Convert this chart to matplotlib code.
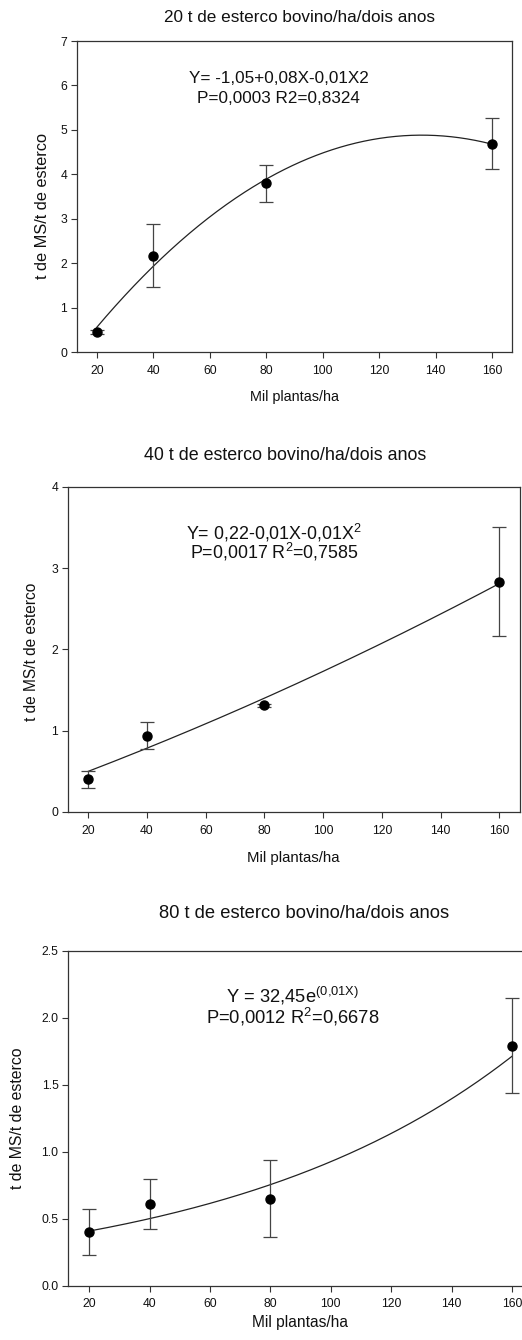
import numpy as np
import matplotlib
matplotlib.use("Agg")
import matplotlib.pyplot as plt

plt.rcParams['font.family'] = ['Liberation Sans', 'DejaVu Sans']
plt.rcParams['mathtext.fontset'] = 'custom'
plt.rcParams['mathtext.rm'] = 'Liberation Sans'
plt.rcParams['mathtext.it'] = 'Liberation Sans'

# ---- data ----
x_plants = [20, 40, 80, 160]

titles = ["20 t de esterco bovino/ha/dois anos",
          "40 t de esterco bovino/ha/dois anos",
          "80 t de esterco bovino/ha/dois anos"]

y20 = [0.45, 2.17, 3.80, 4.69]
e20 = [0.05, 0.70, 0.42, 0.58]
y40 = [0.40, 0.94, 1.31, 2.83]
e40 = [0.10, 0.17, 0.02, 0.67]
y80 = [0.40, 0.61, 0.65, 1.79]
e80 = [0.17, 0.19, 0.285, 0.355]

# fitted curve coefficients (as drawn)
quad20 = [-1.08, 0.0883, -0.000327]      # a + bx + cx^2
quad40 = [0.23, 0.013125, 0.00001875]
exp80 = [0.3325, 0.01024]                # A*exp(kx)

eq_lines = [
    ["Y= -1,05+0,08X-0,01X2", "P=0,0003 R2=0,8324"],
    ["Y= 0,22-0,01X-0,01X$^2$", "P=0,0017 R$^2$=0,7585"],
    ["Y = 32,45e$^{\\mathrm{(0{,}01X)}}$", "P=0,0012 R$^2$=0,6678"],
]
yticks_list = [[0, 1, 2, 3, 4, 5, 6, 7], [0, 1, 2, 3, 4],
               [0.0, 0.5, 1.0, 1.5, 2.0, 2.5]]
ytick_labels = [["0", "1", "2", "3", "4", "5", "6", "7"],
                ["0", "1", "2", "3", "4"],
                ["0.0", "0.5", "1.0", "1.5", "2.0", "2.5"]]
xticks = [20, 40, 60, 80, 100, 120, 140, 160]
ylims = [7, 4, 2.5]

W, H = 522, 1340
fig = plt.figure(figsize=(W / 100, H / 100), dpi=100)

def px_axes(l, t, r, b):
    return fig.add_axes([l / W, 1 - b / H, (r - l) / W, (b - t) / H])

boxes = [(77, 41, 512, 352), (67.7, 486.7, 520, 812), (68.3, 950.7, 533, 1285.7)]
title_pos = [(300, 17), (285, 455), (304, 913)]
title_size = [12.3, 12.9, 13.2]
xlabel_pos = [(295, 397), (293, 858), (300, 1323)]
xlabel_size = [10.4, 10.8, 11.2]
ylabel_pos = [(43, 206), (32, 652), (18, 1118)]
ylabel_size = [11.8, 11.2, 11.4]
eq_pos = [(0.464, 0.878, 0.815), (0.456, 0.858, 0.798), (0.4835, 0.865, 0.802)]
eq_size = [12.3, 12.9, 13.2]

ys = [y20, y40, y80]
es = [e20, e40, e80]
xx = np.linspace(20, 160, 300)
curves = [quad20[0] + quad20[1] * xx + quad20[2] * xx ** 2,
          quad40[0] + quad40[1] * xx + quad40[2] * xx ** 2,
          exp80[0] * np.exp(exp80[1] * xx)]

spine_col = '#333333'
for i in range(3):
    ax = px_axes(*boxes[i])
    ax.plot(xx, curves[i], color='#222222', lw=0.9, zorder=2)
    ax.errorbar(x_plants, ys[i], yerr=es[i], fmt='o', color='black',
                ecolor='#444444', elinewidth=0.9, capsize=4.7, capthick=0.9,
                markersize=6.5, zorder=3)
    ax.set_xlim(13, 167)
    ax.set_ylim(0, ylims[i])
    ax.set_xticks(xticks)
    ax.set_yticks(yticks_list[i])
    ax.set_yticklabels(ytick_labels[i])
    ax.tick_params(direction='out', length=4, width=0.8, labelsize=8.7,
                   color=spine_col, labelcolor='#111111', pad=3)
    ax.tick_params(axis='x', pad=5)
    for s in ax.spines.values():
        s.set_color(spine_col)
        s.set_linewidth(0.9)
    ex, e1, e2 = eq_pos[i]
    ax.text(ex, e1, eq_lines[i][0], transform=ax.transAxes, ha='center',
            va='center', fontsize=eq_size[i], color='#111111')
    ax.text(ex, e2, eq_lines[i][1], transform=ax.transAxes, ha='center',
            va='center', fontsize=eq_size[i], color='#111111')
    tx, ty = title_pos[i]
    fig.text(tx / W, 1 - ty / H, titles[i], ha='center', va='center',
             fontsize=title_size[i], color='#111111')
    lx, ly = xlabel_pos[i]
    fig.text(lx / W, 1 - ly / H, "Mil plantas/ha", ha='center', va='center',
             fontsize=xlabel_size[i], color='#111111')
    yx, yy = ylabel_pos[i]
    fig.text(yx / W, 1 - yy / H, "t de MS/t de esterco", ha='center',
             va='center', rotation=90, fontsize=ylabel_size[i], color='#111111')

fig.savefig("out.png", dpi=100, facecolor='white')
